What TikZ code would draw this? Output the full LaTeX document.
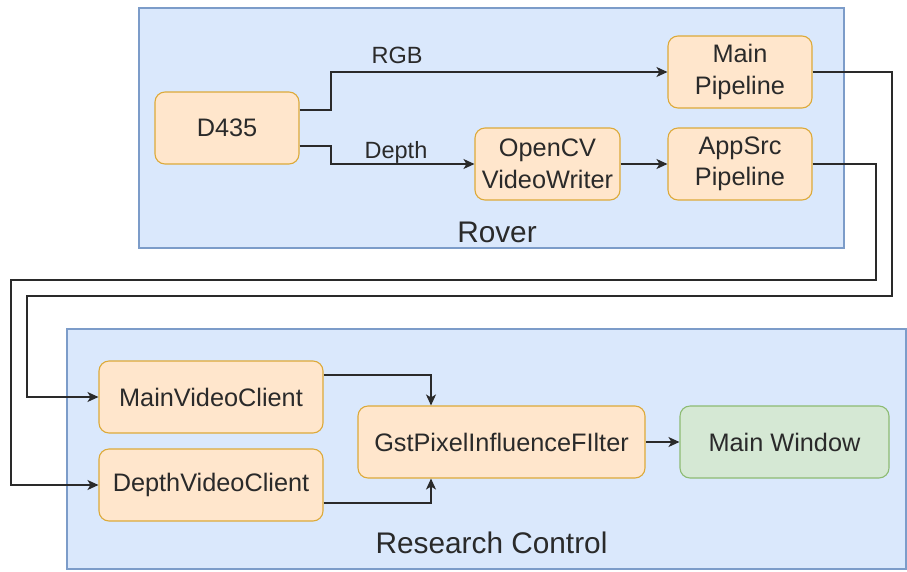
\documentclass[tikz,border=0pt]{standalone}
\usepackage{fontspec}
\setmainfont{Liberation Sans}
\usetikzlibrary{arrows.meta}
\definecolor{grpfill}{HTML}{DAE8FC}
\definecolor{grpline}{HTML}{7C9CC9}
\definecolor{procfill}{HTML}{FFE6CC}
\definecolor{procline}{HTML}{DDAA3A}
\definecolor{winfill}{HTML}{D5E8D4}
\definecolor{winline}{HTML}{8DBB73}
\definecolor{ink}{HTML}{2A2A2A}
\tikzset{
  group/.style={draw=grpline, fill=grpfill, line width=1.2pt},
  proc/.style={draw=procline, fill=procfill, line width=1.1pt, rounded corners=10pt,
    align=center, text=ink, font=\fontsize{25.3}{31.5}\selectfont, inner sep=0pt},
  win/.style={proc, draw=winline, fill=winfill},
  flow/.style={draw=ink, line width=1.2pt, -{Stealth[length=11pt,width=10pt,inset=3pt]}},
  grptitle/.style={text=ink, font=\fontsize{29.8}{34}\selectfont, anchor=base, inner sep=0pt},
  edgelbl/.style={text=ink, font=\fontsize{23.5}{28}\selectfont, anchor=base, inner sep=0pt}
}
\begin{document}
\begin{tikzpicture}[x=1pt,y=-1pt]
\useasboundingbox (0,0) rectangle (907,571);

% group frames
\path[group] (139,8) rectangle (844,248);
\path[group] (67,329) rectangle (906,569);
\node[grptitle] (rover) at (497,242) {Rover};
\node[grptitle] (rc) at (491.5,553) {Research Control};

% Rover side
\node[proc, minimum width=144pt, minimum height=72pt] (d435) at (227,128) {D435};
\node[proc, minimum width=144pt, minimum height=72pt] (mainpipe) at (740,72) {Main\\Pipeline};
\node[proc, minimum width=145pt, minimum height=72pt] (writer) at (547.5,164) {OpenCV\\VideoWriter};
\node[proc, minimum width=144pt, minimum height=72pt] (appsrc) at (740,164) {AppSrc\\Pipeline};

% Research Control side
\node[proc, minimum width=224pt, minimum height=72pt] (mainclient) at (211,397) {MainVideoClient};
\node[proc, minimum width=224pt, minimum height=72pt] (depthclient) at (211,485) {DepthVideoClient};
\node[proc, minimum width=287pt, minimum height=72pt] (filter) at (501.5,442) {GstPixelInfluenceFIlter};
\node[win, minimum width=209pt, minimum height=72pt] (mainwin) at (784.5,442) {Main Window};

% camera streams
\draw[flow] (d435.east |- 0,110) -- (331,110) -- (331,72) -- (mainpipe.west);
\draw[flow] (d435.east |- 0,146) -- (331,146) -- (331,164) -- (writer.west);
\node[edgelbl] (rgb) at (397,63) {RGB};
\node[edgelbl] (depth) at (396,158) {Depth};
\draw[flow] (writer.east) -- (appsrc.west);

% network links to the clients
\draw[flow] (mainpipe.east) -- (892,72) -- (892,296) -- (27,296) -- (27,397) -- (mainclient.west);
\draw[flow] (appsrc.east) -- (876,164) -- (876,280) -- (11,280) -- (11,485) -- (depthclient.west);

% merging into the filter
\draw[flow] (mainclient.east |- 0,375) -- (431,375) -- (filter.north -| 431,0);
\draw[flow] (depthclient.east |- 0,503) -- (431,503) -- (filter.south -| 431,0);
\draw[flow] (filter.east) -- (mainwin.west);
\end{tikzpicture}
\end{document}
